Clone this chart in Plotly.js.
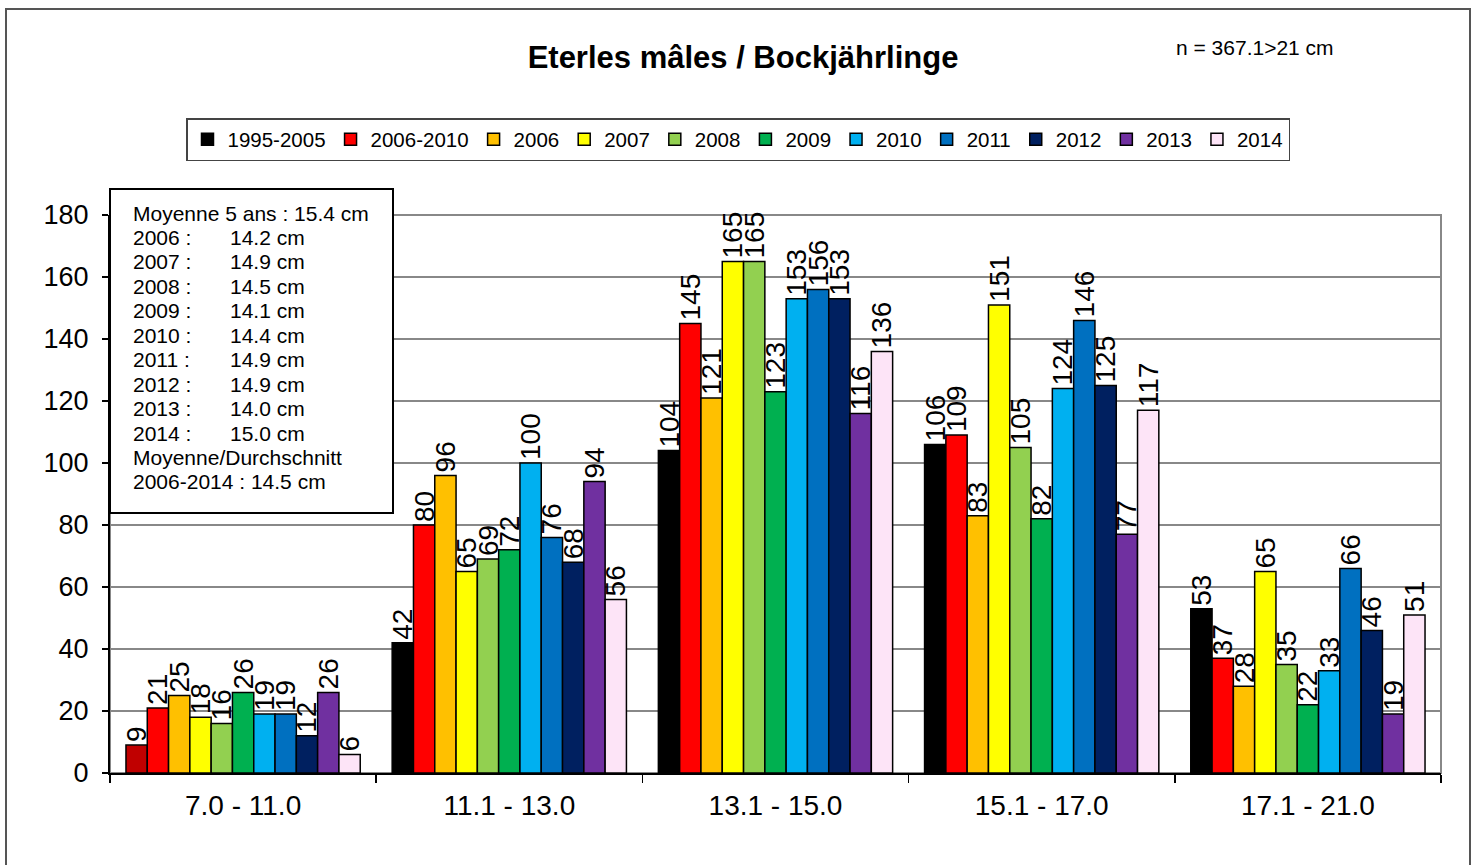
<!DOCTYPE html>
<html>
<head>
<meta charset="utf-8">
<script src="https://cdn.plot.ly/plotly-3.0.1.min.js"></script>
<style>html,body{margin:0;padding:0;background:#fff;}#chart{width:1476px;height:865px;}</style>
</head>
<body>
<div id="chart"></div>
<script>
const categories = ["7.0 - 11.0", "11.1 - 13.0", "13.1 - 15.0", "15.1 - 17.0", "17.1 - 21.0"];
const seriesNames = ["1995-2005", "2006-2010", "2006", "2007", "2008", "2009", "2010", "2011", "2012", "2013", "2014"];
const s1995_2005 = [9, 42, 104, 106, 53];
const s2006_2010 = [21, 80, 145, 109, 37];
const s2006 = [25, 96, 121, 83, 28];
const s2007 = [18, 65, 165, 151, 65];
const s2008 = [16, 69, 165, 105, 35];
const s2009 = [26, 72, 123, 82, 22];
const s2010 = [19, 100, 153, 124, 33];
const s2011 = [19, 76, 156, 146, 66];
const s2012 = [12, 68, 153, 125, 46];
const s2013 = [26, 94, 116, 77, 19];
const s2014 = [6, 56, 136, 117, 51];
const seriesValues = [s1995_2005, s2006_2010, s2006, s2007, s2008, s2009, s2010, s2011, s2012, s2013, s2014];
const seriesColors = ["#000000", "#FF0000", "#FFC000", "#FFFF00", "#92D050", "#00B050", "#00B0F0", "#0070C0", "#002060", "#7030A0", "#FDE4F7"];
const firstPointColor = "#C00000";

const boxLabels = ["2006 :", "2007 :", "2008 :", "2009 :", "2010 :", "2011 :", "2012 :", "2013 :", "2014 :"];
const boxValues = ["14.2 cm", "14.9 cm", "14.5 cm", "14.1 cm", "14.4 cm", "14.9 cm", "14.9 cm", "14.0 cm", "15.0 cm"];
const boxHeader = "Moyenne 5 ans : 15.4 cm";
const boxFooter = ["Moyenne/Durchschnitt", "2006-2014 : 14.5 cm"];

const FONT = "Arial, 'Liberation Sans', sans-serif";

// plot area geometry (pixels) for paper conversions
const L = 110, R = 1441, T = 215, B = 773;
const W = R - L, H = B - T;
const px = x => (x - L) / W;
const py = y => (B - y) / H;

const traces = seriesNames.map((name, i) => {
  const vals = seriesValues[i];
  let colors = vals.map(() => seriesColors[i]);
  if (i === 0) colors[0] = firstPointColor;
  // reversed data order so the legend swatch takes the series colour
  const idx = vals.map((_, k) => k).reverse();
  return {
    type: "bar",
    name: name,
    x: idx.map(k => categories[k]),
    y: idx.map(k => vals[k]),
    text: idx.map(k => String(vals[k])),
    textposition: "outside",
    textangle: -90,
    constraintext: "none",
    cliponaxis: false,
    textfont: {family: FONT, size: 28, color: "#000"},
    marker: {color: idx.map(k => colors[k]), line: {color: "#000", width: 1.5}},
    hoverinfo: "x+y+name"
  };
});

const annotations = [];
const lineY0 = 213, lineStep = 24.45;
const boxFont = {family: FONT, size: 21, color: "#000"};
annotations.push({xref: "paper", yref: "paper", x: px(131), y: py(lineY0), xanchor: "left", yanchor: "middle",
  text: boxHeader, showarrow: false, font: boxFont});
boxLabels.forEach((lab, i) => {
  const y = py(lineY0 + lineStep * (i + 1));
  annotations.push({xref: "paper", yref: "paper", x: px(131), y: y, xanchor: "left", yanchor: "middle",
    text: lab, showarrow: false, font: boxFont});
  annotations.push({xref: "paper", yref: "paper", x: px(228), y: y, xanchor: "left", yanchor: "middle",
    text: boxValues[i], showarrow: false, font: boxFont});
});
boxFooter.forEach((t, j) => {
  annotations.push({xref: "paper", yref: "paper", x: px(131), y: py(lineY0 + lineStep * (10 + j)), xanchor: "left", yanchor: "middle",
    text: t, showarrow: false, font: boxFont});
});
annotations.push({xref: "paper", yref: "paper", x: px(1255), y: py(48), xanchor: "center", yanchor: "middle",
  text: "n = 367.1>21 cm", showarrow: false, font: {family: FONT, size: 21, color: "#000"}});

const shapes = [
  // outer chart border
  {type: "rect", xref: "paper", yref: "paper", x0: px(6), x1: px(1470), y0: py(880), y1: py(9),
   line: {color: "#555", width: 2}, layer: "below"},
  // plot area border (top/right)
  {type: "rect", xref: "paper", yref: "paper", x0: 0, x1: 1, y0: 0, y1: 1,
   line: {color: "#888", width: 2}, layer: "below"},
  // text box
  {type: "rect", xref: "paper", yref: "paper", x0: px(110), x1: px(393), y0: py(513), y1: py(189),
   line: {color: "#000", width: 2}, fillcolor: "#fff", layer: "above"}
];

const layout = {
  width: 1476, height: 865,
  margin: {l: L, r: 1476 - R, t: T, b: 865 - B, pad: 0},
  paper_bgcolor: "#fff", plot_bgcolor: "#fff",
  font: {family: FONT, color: "#000"},
  title: {text: "<b>Eterles mâles / Bockjährlinge</b>", x: 743 / 1476, xanchor: "center",
          y: 1 - 57 / 865, yanchor: "middle", font: {family: FONT, size: 31, color: "#000"}},
  barmode: "group", bargap: 0.12, bargroupgap: 0,
  showlegend: true,
  legend: {orientation: "h", x: px(186), y: py(118), xanchor: "left", yanchor: "top",
           bordercolor: "#444", borderwidth: 1.5, bgcolor: "#fff",
           font: {family: FONT, size: 20.5, color: "#000"}, traceorder: "normal"},
  xaxis: {type: "category", categoryorder: "array", categoryarray: categories,
          showline: true, linecolor: "#000", linewidth: 2, ticks: "outside", tickson: "boundaries",
          ticklen: 8, tickcolor: "#000", tickwidth: 1.5, showgrid: false, ticklabelstandoff: 6,
          tickfont: {family: FONT, size: 28, color: "#000"}, fixedrange: true},
  yaxis: {range: [0, 180], dtick: 20, showline: true, linecolor: "#000", linewidth: 2,
          ticks: "outside", ticklen: 6, tickcolor: "#000", tickwidth: 1.5, ticklabelstandoff: 8,
          showgrid: true, gridcolor: "#888", gridwidth: 1.5, zeroline: false,
          tickfont: {family: FONT, size: 27, color: "#000"}, fixedrange: true},
  annotations: annotations,
  shapes: shapes
};

Plotly.newPlot("chart", traces, layout, {displayModeBar: false, staticPlot: true});
</script>
</body>
</html>
